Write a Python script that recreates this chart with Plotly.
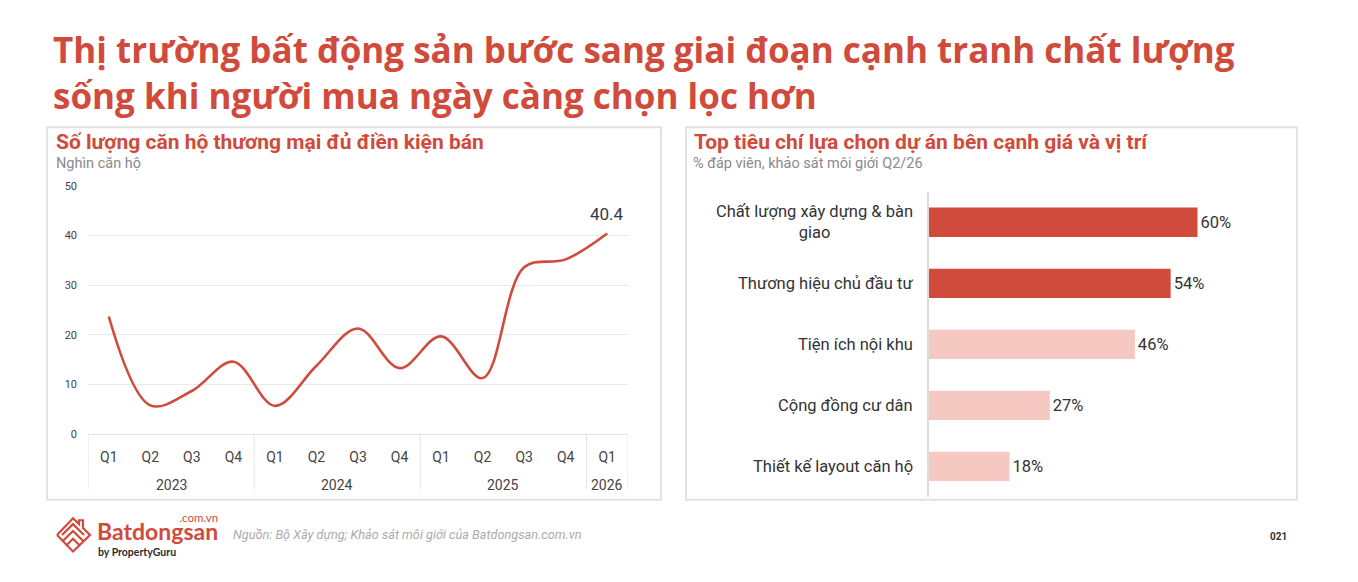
import plotly.graph_objects as go

W, H = 1358, 582

# ---------------- data ----------------
years = ["2023"] * 4 + ["2024"] * 4 + ["2025"] * 4 + ["2026"]
quarters = ["Q1", "Q2", "Q3", "Q4", "Q1", "Q2", "Q3", "Q4", "Q1", "Q2", "Q3", "Q4", "Q1"]
supply = [23.7, 5.8, 8.7, 14.6, 5.7, 13.8, 21.3, 13.3, 19.7, 11.3, 33.6, 35.2, 40.4]

criteria = ["Chất lượng xây dựng & bàn<br>giao", "Thương hiệu chủ đầu tư",
            "Tiện ích nội khu", "Cộng đồng cư dân", "Thiết kế layout căn hộ"]
shares = [60, 54, 46, 27, 18]

y_ticks = [0, 10, 20, 30, 40, 50]

RED = "#D04B3B"
PINK = "#F6C8C2"
bar_colors = [RED, RED, PINK, PINK, PINK]

def px(x):
    return x / W

def py(y):
    return 1 - y / H

period = [f"{q} {y}" for q, y in zip(quarters, years)]

fig = go.Figure()

# ---------------- left: line chart ----------------
fig.add_trace(go.Scatter(
    x=period, y=supply, mode="lines",
    line=dict(color=RED, width=2.6, shape="spline", smoothing=1.0),
    xaxis="x", yaxis="y", hoverinfo="skip",
))

# ---------------- right: bar chart ----------------
fig.add_trace(go.Bar(
    x=shares, y=criteria, orientation="h",
    marker=dict(color=bar_colors, line=dict(width=0)),
    text=[f"{v}%" for v in shares], textposition="outside",
    textfont=dict(family="Roboto", size=16.5, color="#333333"),
    cliponaxis=False,
    xaxis="x2", yaxis="y2", hoverinfo="skip",
))

fig.update_layout(
    width=W, height=H,
    margin=dict(l=0, r=0, t=0, b=0),
    paper_bgcolor="white", plot_bgcolor="white",
    showlegend=False,
    font=dict(family="Roboto", color="#333333"),
    bargap=0.52,
    xaxis=dict(
        domain=[px(88), px(628)],
        type="category", range=[-0.5, len(period) - 0.5],
        tickvals=period, ticktext=quarters,
        showgrid=False, showline=True, linecolor="#E3E3E3", linewidth=1,
        tickfont=dict(family="Roboto", size=14, color="#444444"),
        ticks="", ticklabelstandoff=10,
        fixedrange=True, anchor="y",
    ),
    yaxis=dict(
        domain=[py(438), py(184)],
        range=[0, 50], tickvals=y_ticks,
        showgrid=True, gridcolor="#E9E9E9", gridwidth=1,
        zeroline=False, showline=False,
        tickfont=dict(family="Roboto", size=11, color="#444444"),
        ticklabelstandoff=10,
        anchor="x",
    ),
    xaxis2=dict(
        domain=[px(929), px(1287)],
        range=[0, 80], visible=False, anchor="y2",
    ),
    yaxis2=dict(
        domain=[py(502), py(190)],
        type="category", range=[len(criteria) - 0.5, -0.5],
        showticklabels=False, ticks="",
        showline=True, linecolor="#DDDDDD", linewidth=1.5,
        showgrid=False, zeroline=False,
        anchor="x2",
    ),
)

shapes = []
# panel boxes
for x0, x1 in [(47, 661), (686, 1297)]:
    shapes.append(dict(type="rect", xref="paper", yref="paper",
                       x0=px(x0), x1=px(x1), y0=py(505), y1=py(124),
                       line=dict(color="#E2E2E2", width=2), fillcolor="rgba(0,0,0,0)"))

# year groups: dividers and labels
groups = []
for i, yv in enumerate(years):
    if not groups or groups[-1][0] != yv:
        groups.append([yv, i, i])
    else:
        groups[-1][2] = i
bounds = sorted({g[1] - 0.5 for g in groups} | {g[2] + 0.5 for g in groups})
for b in bounds:
    shapes.append(dict(type="line", xref="x", yref="paper", x0=b, x1=b,
                       y0=py(438), y1=py(494), line=dict(color="#E3E3E3", width=1)))

# logo icon (chevron house)
def path(pts):
    return "M " + " L ".join(f"{px(a):.5f},{py(b):.5f}" for a, b in pts)

logo_paths = [
    [(57, 541), (73, 524), (79, 530), (79, 526), (83, 526), (83, 534), (90, 541), (73, 558), (57, 541)],
    [(62, 541), (73, 530), (84, 541)],
    [(63, 547), (73, 537), (83, 547)],
    [(66, 552), (73, 545), (80, 552)],
]
for p in logo_paths:
    shapes.append(dict(type="path", xref="paper", yref="paper", path=path(p),
                       line=dict(color=RED, width=2.2)))
fig.update_layout(shapes=shapes)

ann = []
for yv, i0, i1 in groups:
    ann.append(dict(xref="x", yref="paper", x=(i0 + i1) / 2, y=py(490),
                    xanchor="center", yanchor="middle", text=yv, showarrow=False,
                    font=dict(family="Roboto", size=14, color="#444444")))
# last value label
ann.append(dict(xref="x", yref="y", x=period[-1], y=supply[-1], yshift=20,
                xanchor="center", yanchor="middle", text=f"{supply[-1]:.1f}",
                showarrow=False, font=dict(family="Roboto", size=17, color="#2F3B4C")))
# main title
ann.append(dict(
    xref="paper", yref="paper", x=px(51), y=py(68), xanchor="left", yanchor="middle",
    text="Thị trường bất động sản bước sang giai đoạn cạnh tranh chất lượng<br>"
         "sống khi người mua ngày càng chọn lọc hơn",
    showarrow=False, align="left",
    font=dict(family="Open Sans", size=35, color=RED, weight=700),
))
# panel titles
ann.append(dict(xref="paper", yref="paper", x=px(54), y=py(139), xanchor="left", yanchor="middle",
                text="<b>Số lượng căn hộ thương mại đủ điền kiện bán</b>", showarrow=False,
                font=dict(family="Roboto", size=21, color=RED)))
ann.append(dict(xref="paper", yref="paper", x=px(54), y=py(161), xanchor="left", yanchor="middle",
                text="Nghìn căn hộ", showarrow=False,
                font=dict(family="Roboto", size=14.5, color="#8A8A8A")))
ann.append(dict(xref="paper", yref="paper", x=px(692), y=py(139), xanchor="left", yanchor="middle",
                text="<b>Top tiêu chí lựa chọn dự án bên cạnh giá và vị trí</b>", showarrow=False,
                font=dict(family="Roboto", size=21, color=RED)))
ann.append(dict(xref="paper", yref="paper", x=px(691), y=py(161), xanchor="left", yanchor="middle",
                text="% đáp viên, khảo sát môi giới Q2/26", showarrow=False,
                font=dict(family="Roboto", size=14.5, color="#8A8A8A")))
# bar category labels
for c in criteria:
    ann.append(dict(xref="paper", yref="y2", x=px(915), y=c, xanchor="right", yanchor="middle",
                    text=c, showarrow=False, align="center",
                    font=dict(family="Roboto", size=16.5, color="#333333")))
# footer logo wordmark
logo_text = ("<span style='font-size:11.5px'>.com.vn</span><br>"
             "<span style='font-size:23px'><b>Batdongsan</b></span>")
ann.append(dict(xref="paper", yref="paper", x=px(95), y=py(534), xanchor="left", yanchor="middle",
                text=logo_text, showarrow=False, align="right",
                font=dict(family="Lato", size=14, color=RED)))
ann.append(dict(xref="paper", yref="paper", x=px(96), y=py(558), xanchor="left", yanchor="middle",
                text="<b>by PropertyGuru</b>", showarrow=False,
                font=dict(family="Lato", size=10.5, color="#2B2B2B")))
ann.append(dict(xref="paper", yref="paper", x=px(231), y=py(541), xanchor="left", yanchor="middle",
                text="<i>Nguồn: Bộ Xây dựng; Khảo sát môi giới của Batdongsan.com.vn</i>", showarrow=False,
                font=dict(family="Roboto", size=12.7, color="#ABABAB")))
ann.append(dict(xref="paper", yref="paper", x=px(1278), y=py(543), xanchor="center", yanchor="middle",
                text="<b>021</b>", showarrow=False,
                font=dict(family="Roboto", size=10, color="#333333")))
fig.update_layout(annotations=ann)

fig.write_html("out.html")
